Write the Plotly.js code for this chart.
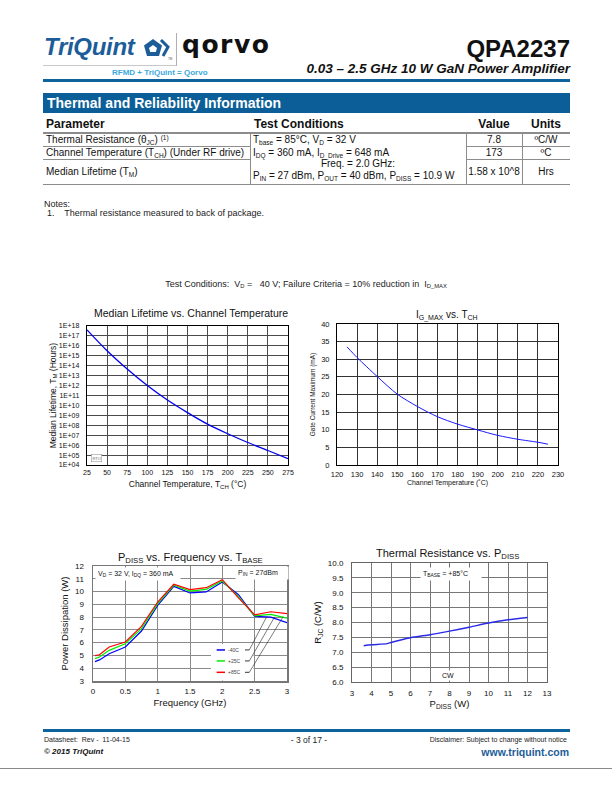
<!DOCTYPE html>
<html>
<head>
<meta charset="utf-8">
<script src="https://cdn.plot.ly/plotly-3.0.1.min.js"></script>
<style>
  html, body { margin:0; padding:0; background:#fff; }
  body { width:612px; height:792px; position:relative; overflow:hidden;
         font-family:'Liberation Sans', Arial, Helvetica, sans-serif; color:#111; }
  .a { position:absolute; white-space:pre; line-height:1.15; z-index:2; }
  .hl { position:absolute; z-index:2; }
  .sb { font-size:65%; position:relative; top:0.25em; }
  .sp { font-size:65%; position:relative; top:-0.45em; }
  #plot { position:absolute; left:0; top:0; width:612px; height:792px; z-index:1; }
</style>
</head>
<body>
<div id="plot"></div>

<!-- Header -->
<div class="a" style="left:44px;top:33px;font-size:24px;font-weight:bold;font-style:italic;color:#1c5d99;letter-spacing:-0.3px;">TriQuint</div>
<svg class="hl" style="left:143px;top:38px;" width="32" height="24" viewBox="0 0 32 24">
  <polygon points="10,1 19,7.5 16,18 4,18 1,7.5" fill="#1c5d99"/>
  <polygon points="10,7 14,10 12.8,14 7.2,14 6,10" fill="#fff"/>
  <polyline points="18,2 25,9 20,18" fill="none" stroke="#1c5d99" stroke-width="3"/>
  <text x="25" y="22" font-size="3" fill="#555">TM</text>
</svg>
<div class="hl" style="left:43px;top:65px;width:134px;height:1px;background:#c8c8c8;"></div>
<div class="hl" style="left:176px;top:33px;width:1px;height:33px;background:#b0b0b0;"></div>
<div class="a" style="left:182px;top:31px;font-size:25px;font-weight:bold;font-family:'DejaVu Sans',sans-serif;letter-spacing:1.5px;color:#111;">qorvo</div>
<div class="a" style="left:112px;top:68px;font-size:8px;font-weight:bold;color:#3aa8de;">RFMD + TriQuint = Qorvo</div>
<div class="a" style="right:42px;top:35px;font-size:24px;font-weight:bold;color:#111;">QPA2237</div>
<div class="a" style="right:42px;top:61px;font-size:13.5px;font-weight:bold;font-style:italic;color:#111;">0.03 – 2.5 GHz 10 W GaN Power Amplifier</div>
<div class="hl" style="left:43px;top:79px;width:527px;height:2.5px;background:#0e639c;"></div>

<!-- Section bar -->
<div class="hl" style="left:43px;top:93px;width:527px;height:20px;background:#0b5e98;"></div>
<div class="a" style="left:47px;top:95px;font-size:14px;font-weight:bold;color:#fff;">Thermal and Reliability Information</div>

<!-- Table -->
<div class="a" style="left:46px;top:118px;font-size:12px;font-weight:bold;">Parameter</div>
<div class="a" style="left:254px;top:118px;font-size:12px;font-weight:bold;">Test Conditions</div>
<div class="a" style="left:494px;top:118px;font-size:12px;font-weight:bold;transform:translateX(-50%);">Value</div>
<div class="a" style="left:546px;top:118px;font-size:12px;font-weight:bold;transform:translateX(-50%);">Units</div>
<div class="hl" style="left:43px;top:132px;width:527px;height:2px;background:#8c8c8c;"></div>
<div class="hl" style="left:43px;top:146px;width:207px;height:1px;background:#8c8c8c;"></div>
<div class="hl" style="left:466px;top:146px;width:104px;height:1px;background:#8c8c8c;"></div>
<div class="hl" style="left:43px;top:159px;width:207px;height:1px;background:#8c8c8c;"></div>
<div class="hl" style="left:466px;top:159px;width:104px;height:1px;background:#8c8c8c;"></div>
<div class="hl" style="left:43px;top:184px;width:527px;height:1px;background:#8c8c8c;"></div>
<div class="hl" style="left:250px;top:133px;width:1px;height:51px;background:#8c8c8c;"></div>
<div class="hl" style="left:466px;top:133px;width:1px;height:51px;background:#8c8c8c;"></div>
<div class="hl" style="left:522px;top:133px;width:1px;height:51px;background:#8c8c8c;"></div>

<div class="a" style="left:46px;top:134px;font-size:10px;">Thermal Resistance (θ<span class="sb">JC</span>) <span class="sp">(1)</span></div>
<div class="a" style="left:46px;top:147px;font-size:10px;">Channel Temperature (T<span class="sb">CH</span>) (Under RF drive)</div>
<div class="a" style="left:46px;top:166px;font-size:10px;">Median Lifetime (T<span class="sb">M</span>)</div>
<div class="a" style="left:253px;top:134px;font-size:10px;">T<span class="sb">base</span> = 85°C, V<span class="sb">D</span> = 32 V</div>
<div class="a" style="left:253px;top:147px;font-size:10px;">I<span class="sb">DQ</span> = 360 mA, I<span class="sb">D_Drive</span> = 648 mA</div>
<div class="a" style="left:358px;top:158px;font-size:10px;transform:translateX(-50%);">Freq. = 2.0 GHz:</div>
<div class="a" style="left:253px;top:170px;font-size:10px;">P<span class="sb">IN</span> = 27 dBm, P<span class="sb">OUT</span> = 40 dBm, P<span class="sb">DISS</span> = 10.9 W</div>
<div class="a" style="left:494px;top:134px;font-size:10px;transform:translateX(-50%);">7.8</div>
<div class="a" style="left:494px;top:147px;font-size:10px;transform:translateX(-50%);">173</div>
<div class="a" style="left:494px;top:166px;font-size:10px;transform:translateX(-50%);">1.58 x 10^8</div>
<div class="a" style="left:546px;top:134px;font-size:10px;transform:translateX(-50%);">ºC/W</div>
<div class="a" style="left:546px;top:147px;font-size:10px;transform:translateX(-50%);">ºC</div>
<div class="a" style="left:546px;top:166px;font-size:10px;transform:translateX(-50%);">Hrs</div>

<div class="a" style="left:44px;top:199px;font-size:9px;color:#222;">Notes:</div>
<div class="a" style="left:47px;top:208px;font-size:9px;color:#222;">1.    Thermal resistance measured to back of package.</div>

<div class="a" style="left:306px;top:279px;font-size:9px;color:#222;transform:translateX(-50%);">Test Conditions:  V<span class="sb">D</span> =   40 V; Failure Criteria = 10% reduction in  I<span class="sb">D_MAX</span></div>

<!-- Footer -->
<div class="hl" style="left:43px;top:729px;width:527px;height:2.5px;background:#0e639c;"></div>
<div class="a" style="left:44px;top:736px;font-size:7px;color:#222;">Datasheet:  Rev -  11-04-15</div>
<div class="a" style="left:309px;top:736px;font-size:8.5px;color:#222;transform:translateX(-50%);">- 3 of 17 -</div>
<div class="a" style="right:45px;top:736px;font-size:7px;color:#222;">Disclaimer: Subject to change without notice</div>
<div class="a" style="left:44px;top:747px;font-size:8px;font-weight:bold;font-style:italic;color:#111;">© 2015 TriQuint</div>
<div class="a" style="right:43px;top:746px;font-size:10.5px;font-weight:bold;color:#1c5d99;">www.triquint.com</div>
<div class="hl" style="left:0px;top:768px;width:612px;height:1px;background:#8a8a8a;"></div>

<script>
// ---------- Data ----------
// Chart 1: Median Lifetime vs Channel Temperature
const c1Temp = [25, 50, 75, 100, 125, 150, 175, 200, 225, 250, 275];
const c1Life = [4.1e17, 3.2e15, 4.6e13, 1.0e12, 3.5e10, 1.9e9, 1.3e8, 1.4e7, 1.85e6, 2.9e5, 4.4e4];
const c1XTicks = [25, 50, 75, 100, 125, 150, 175, 200, 225, 250, 275];
const c1YTickVals = [1e4, 1e5, 1e6, 1e7, 1e8, 1e9, 1e10, 1e11, 1e12, 1e13, 1e14, 1e15, 1e16, 1e17, 1e18];
const c1YTickText = ['1E+04','1E+05','1E+06','1E+07','1E+08','1E+09','1E+10','1E+11','1E+12','1E+13','1E+14','1E+15','1E+16','1E+17','1E+18'];

// Chart 2: IG_MAX vs TCH
const c2Temp = [125, 130, 140, 150, 160, 170, 180, 190, 200, 210, 220, 225];
const c2Ig   = [33.5, 30.5, 25.1, 20.1, 16.6, 13.7, 11.6, 9.95, 8.4, 7.3, 6.45, 5.9];

// Chart 3: PDISS vs Frequency vs TBASE
const c3Freq  = [0.03, 0.1, 0.25, 0.5, 0.75, 1.0, 1.25, 1.5, 1.75, 2.0, 2.25, 2.5, 2.75, 3.0];
const c3Neg40 = [4.52, 4.65, 5.14, 5.66, 6.91, 8.92, 10.41, 9.89, 9.97, 10.75, 9.75, 8.05, 8.0, 7.56];
const c3Pos25 = [4.75, 4.88, 5.40, 5.92, 7.10, 9.05, 10.49, 10.04, 10.17, 10.83, 9.60, 8.10, 8.22, 7.92];
const c3Pos85 = [4.98, 5.05, 5.66, 6.05, 7.28, 9.18, 10.57, 10.15, 10.30, 10.93, 9.50, 8.18, 8.42, 8.28];
const c3Names = ['-40C', '+25C', '+85C'];

// Chart 4: Thermal Resistance vs PDISS
const c4Pdiss = [3.6, 4.0, 4.8, 5.0, 6.0, 7.0, 8.0, 9.0, 10.0, 11.0, 12.0];
const c4Rjc   = [7.22, 7.25, 7.29, 7.33, 7.49, 7.59, 7.71, 7.84, 7.98, 8.09, 8.17];

// ---------- Helpers ----------
const FONT = 'Liberation Sans, Arial, Helvetica, sans-serif';
const W = 612, H = 792;
const X = p => p / W;
const Y = p => 1 - p / H;

function ax(o) {
  return Object.assign({
    showline: true, mirror: true, linecolor: '#000', linewidth: 1,
    showgrid: true, gridcolor: '#555', gridwidth: 1,
    zeroline: false, ticks: '', fixedrange: true,
    tickfont: { family: FONT, size: 7.5, color: '#111' }
  }, o);
}

const c3Colors = ['#0000ff', '#00ee00', '#ff0000'];

const traces = [
  { x: c1Temp, y: c1Life, xaxis: 'x', yaxis: 'y', mode: 'lines',
    line: { color: '#0000ee', width: 1.3, shape: 'spline', smoothing: 0.8 } },
  { x: c2Temp, y: c2Ig, xaxis: 'x2', yaxis: 'y2', mode: 'lines',
    line: { color: '#1a1aff', width: 1, shape: 'spline', smoothing: 0.8 } },
  { x: c3Freq, y: c3Neg40, xaxis: 'x3', yaxis: 'y3', mode: 'lines', name: c3Names[0],
    line: { color: c3Colors[0], width: 1.2 } },
  { x: c3Freq, y: c3Pos25, xaxis: 'x3', yaxis: 'y3', mode: 'lines', name: c3Names[1],
    line: { color: c3Colors[1], width: 1.2 } },
  { x: c3Freq, y: c3Pos85, xaxis: 'x3', yaxis: 'y3', mode: 'lines', name: c3Names[2],
    line: { color: c3Colors[2], width: 1.2 } },
  { x: c4Pdiss, y: c4Rjc, xaxis: 'x4', yaxis: 'y4', mode: 'lines',
    line: { color: '#2a2ae8', width: 1.5, shape: 'spline', smoothing: 0.6 } }
];

// Chart 3 legend (manual, with leader lines)
const legY = [5.43, 4.57, 3.68];
const leadEndX = [2.686, 2.81, 2.94];
const shapes = [
  { type: 'rect', xref: 'paper', yref: 'paper', x0: X(211), x1: X(253.5), y0: Y(680.5), y1: Y(644),
    fillcolor: '#fff', line: { width: 0 }, layer: 'above' }
];
const annots = [];
for (let i = 0; i < 3; i++) {
  shapes.push({ type: 'line', xref: 'x3', yref: 'y3', x0: 1.912, x1: 2.041, y0: legY[i], y1: legY[i],
                line: { color: c3Colors[i], width: 1.5 } });
  shapes.push({ type: 'line', xref: 'x3', yref: 'y3', x0: 2.35, x1: 2.417, y0: legY[i], y1: legY[i],
                line: { color: '#000', width: 0.8 } });
  shapes.push({ type: 'line', xref: 'x3', yref: 'y3', x0: 2.417, x1: leadEndX[i], y0: legY[i], y1: 8.03,
                line: { color: '#222', width: 0.6 } });
  annots.push({ xref: 'x3', yref: 'y3', x: 2.06, y: legY[i], xanchor: 'left', yanchor: 'middle',
                text: c3Names[i], showarrow: false, font: { family: FONT, size: 5, color: '#444' } });
}

// Chart titles and in-plot labels
annots.push(
  { xref: 'paper', yref: 'paper', x: X(191), y: Y(313), xanchor: 'center', yanchor: 'middle', showarrow: false,
    text: 'Median Lifetime vs. Channel Temperature', font: { family: FONT, size: 10.5, color: '#111' } },
  { xref: 'paper', yref: 'paper', x: X(447), y: Y(315), xanchor: 'center', yanchor: 'middle', showarrow: false,
    text: 'I<sub>G_MAX</sub> vs. T<sub>CH</sub>', font: { family: FONT, size: 10, color: '#111' } },
  { xref: 'paper', yref: 'paper', x: X(190), y: Y(558), xanchor: 'center', yanchor: 'middle', showarrow: false,
    text: 'P<sub>DISS</sub> vs. Frequency vs. T<sub>BASE</sub>', font: { family: FONT, size: 11, color: '#111' } },
  { xref: 'paper', yref: 'paper', x: X(447), y: Y(554), xanchor: 'center', yanchor: 'middle', showarrow: false,
    text: 'Thermal Resistance vs. P<sub>DISS</sub>', font: { family: FONT, size: 11, color: '#111' } },
  { xref: 'paper', yref: 'paper', x: X(96.5), y: Y(457.5), xanchor: 'center', yanchor: 'middle', showarrow: false,
    text: 'RTO', font: { family: FONT, size: 4, color: '#666' }, bgcolor: '#fff', bordercolor: '#888', borderwidth: 0.5, borderpad: 1 },
  { xref: 'paper', yref: 'paper', x: X(95), y: Y(573.5), xanchor: 'left', yanchor: 'middle', showarrow: false,
    text: 'V<sub>D</sub> = 32 V, I<sub>DQ</sub> = 360 mA', width: 80, align: 'left',
    font: { family: FONT, size: 7, color: '#111' }, bgcolor: '#fff', borderpad: 2 },
  { xref: 'paper', yref: 'paper', x: X(235), y: Y(573), xanchor: 'left', yanchor: 'middle', showarrow: false,
    text: 'P<sub>IN</sub> = 27dBm', width: 48, align: 'left',
    font: { family: FONT, size: 7, color: '#111' }, bgcolor: '#fff', borderpad: 2 },
  { xref: 'paper', yref: 'paper', x: X(420), y: Y(574), xanchor: 'left', yanchor: 'middle', showarrow: false,
    text: 'T<sub>BASE</sub> = +85°C', width: 56, align: 'left',
    font: { family: FONT, size: 7, color: '#111' }, bgcolor: '#fff', borderpad: 2 },
  { xref: 'paper', yref: 'paper', x: X(448.5), y: Y(675), xanchor: 'center', yanchor: 'middle', showarrow: false,
    text: 'CW', font: { family: FONT, size: 7, color: '#111' }, bgcolor: '#fff', borderpad: 1 }
);

const layout = {
  width: W, height: H,
  margin: { l: 0, r: 0, t: 0, b: 0, pad: 0 },
  paper_bgcolor: 'rgba(0,0,0,0)', plot_bgcolor: '#fff',
  showlegend: false,
  font: { family: FONT, color: '#111' },

  xaxis: ax({ domain: [X(87), X(288)], anchor: 'y', range: [25, 275], tickvals: c1XTicks,
              gridcolor: '#4a4a4a', linewidth: 1.3, tickfont: { family: FONT, size: 7, color: '#111' },
              title: { text: 'Channel Temperature, T<sub>CH</sub> (°C)', font: { family: FONT, size: 8.5, color: '#111' }, standoff: 6 } }),
  yaxis: ax({ domain: [Y(465), Y(326)], anchor: 'x', type: 'log', range: [4, 18],
              tickvals: c1YTickVals, ticktext: c1YTickText, ticklabelstandoff: 5,
              gridcolor: '#4a4a4a', linewidth: 1.3, tickfont: { family: FONT, size: 7, color: '#111' },
              title: { text: 'Median Lifetime, T<sub>M</sub> (Hours)', font: { family: FONT, size: 8.5, color: '#111' }, standoff: 1 } }),

  xaxis2: ax({ domain: [X(337), X(558)], anchor: 'y2', range: [120, 230], dtick: 10,
               gridcolor: '#333', tickfont: { family: FONT, size: 7.5, color: '#111' }, ticklabelstandoff: 2,
               title: { text: 'Channel Temperature (˚C)', font: { family: FONT, size: 7, color: '#111' }, standoff: 2 } }),
  yaxis2: ax({ domain: [Y(465), Y(324)], anchor: 'x2', range: [0, 40], dtick: 5,
               gridcolor: '#333', tickfont: { family: FONT, size: 7.5, color: '#111' }, ticklabelstandoff: 5,
               title: { text: 'Gate Current Maximum (mA)', font: { family: FONT, size: 6.5, color: '#111' }, standoff: 4 } }),

  xaxis3: ax({ domain: [X(93), X(287)], anchor: 'y3', range: [0, 3], dtick: 0.5,
               gridcolor: '#8a8a8a', linecolor: '#777', linewidth: 1.5, ticklabelstandoff: 2,
               tickfont: { family: FONT, size: 8, color: '#111' },
               title: { text: 'Frequency (GHz)', font: { family: FONT, size: 9.5, color: '#111' }, standoff: 4 } }),
  yaxis3: ax({ domain: [Y(681), Y(566)], anchor: 'x3', range: [3, 12], dtick: 1,
               gridcolor: '#8a8a8a', linecolor: '#777', linewidth: 1.5, ticklabelstandoff: 6,
               tickfont: { family: FONT, size: 8, color: '#111' },
               title: { text: 'Power Dissipation (W)', font: { family: FONT, size: 9.5, color: '#111' }, standoff: 4 } }),

  xaxis4: ax({ domain: [X(352), X(547)], anchor: 'y4', range: [3, 13], dtick: 1,
               gridcolor: '#777', linecolor: '#666', ticklabelstandoff: 3,
               tickfont: { family: FONT, size: 8, color: '#111' },
               title: { text: 'P<sub>DISS</sub> (W)', font: { family: FONT, size: 9.5, color: '#111' }, standoff: 3 } }),
  yaxis4: ax({ domain: [Y(682), Y(563)], anchor: 'x4', range: [6, 10], dtick: 0.5, tickformat: '.1f',
               gridcolor: '#777', linecolor: '#666', ticklabelstandoff: 6,
               tickfont: { family: FONT, size: 8, color: '#111' },
               title: { text: 'R<sub>JC</sub> (C/W)', font: { family: FONT, size: 9.5, color: '#111' }, standoff: 4 } }),

  shapes: shapes,
  annotations: annots
};

Plotly.newPlot('plot', traces, layout, { staticPlot: true, displayModeBar: false });
</script>
</body>
</html>
